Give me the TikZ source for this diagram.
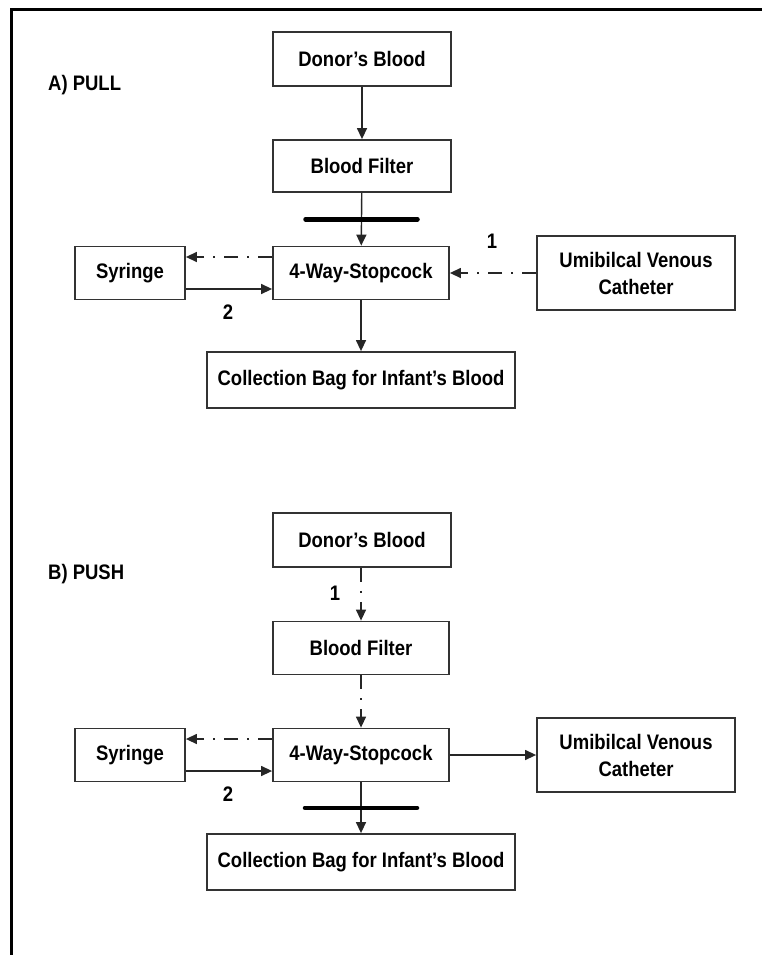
\documentclass[tikz,border=0pt]{standalone}
\usepackage{fontspec}
\setmainfont{Liberation Sans}[FakeStretch=0.88]
\usetikzlibrary{arrows.meta,calc}
\begin{document}
\begin{tikzpicture}[x=1pt,y=-1pt,
  box/.style={draw=black!80,line width=1.8pt,fill=white,inner sep=0pt,align=center,
    font=\fontsize{21}{27}\selectfont\bfseries},
  flow/.style={draw=black!85,line width=1.4pt,-{Triangle[length=11pt,width=10pt]}},
  dashflow/.style={flow,dash pattern=on 14pt off 9pt on 2pt off 9pt},
  clamp/.style={line width=4.5pt,line cap=round,black},
  lbl/.style={font=\fontsize{21}{24}\selectfont\bfseries,inner sep=0pt}]
\useasboundingbox (0,0) rectangle (762,955);
% frame
\draw[line width=3pt] (11,960) -- (11,10) -- (770,10);

% ---------- A) PULL ----------
\node[lbl,anchor=west] (titA) at (48,85) {A) PULL};
\node[box,minimum width=178pt,minimum height=54pt] (donA) at (362,59) {Donor's Blood};
\node[box,minimum width=178pt,minimum height=52pt] (filA) at (362,166) {Blood Filter};
\node[box,minimum width=176pt,minimum height=53pt] (stcA) at (361,273) {4-Way-Stopcock};
\node[box,minimum width=110pt,minimum height=53pt] (syrA) at (130,273) {Syringe};
\node[box,minimum width=198pt,minimum height=74pt] (uvcA) at (636,273) {Umibilcal Venous\\Catheter};
\node[box,minimum width=308pt,minimum height=56pt] (bagA) at (361,380) {Collection Bag for Infant's Blood};

\draw[flow] (donA) -- (filA);
\draw[flow] (filA) -- (stcA);
\coordinate (clA) at ($(filA.south)!0.5!(stcA.north)$);
\draw[clamp] ($(clA)+(-56,0)$) -- ($(clA)+(56,0)$);
\draw[dashflow] ($(stcA.west)+(0,-16)$) coordinate (a1) -- (syrA.east |- a1);
\draw[flow] ($(syrA.east)+(0,16)$) coordinate (a2) -- (stcA.west |- a2);
\node[lbl] (twoA) at (228,312) {2};
\draw[dashflow] (uvcA.west |- stcA.east) -- (stcA.east);
\node[lbl] (oneA) at (492,241) {1};
\draw[flow] (stcA) -- (bagA);

% ---------- B) PUSH ----------
\node[lbl,anchor=west] (titB) at (48,574) {B) PUSH};
\node[box,minimum width=178pt,minimum height=54pt] (donB) at (362,540) {Donor's Blood};
\node[box,minimum width=176pt,minimum height=53pt] (filB) at (361,648) {Blood Filter};
\node[box,minimum width=176pt,minimum height=53pt] (stcB) at (361,755) {4-Way-Stopcock};
\node[box,minimum width=110pt,minimum height=53pt] (syrB) at (130,755) {Syringe};
\node[box,minimum width=198pt,minimum height=74pt] (uvcB) at (636,755) {Umibilcal Venous\\Catheter};
\node[box,minimum width=308pt,minimum height=56pt] (bagB) at (361,862) {Collection Bag for Infant's Blood};

\draw[dashflow] (donB.south -| filB.north) -- (filB.north);
\node[lbl] (oneB) at (335,593) {1};
\draw[dashflow] (filB) -- (stcB);
\draw[dashflow] ($(stcB.west)+(0,-16)$) coordinate (b1) -- (syrB.east |- b1);
\draw[flow] ($(syrB.east)+(0,16)$) coordinate (b2) -- (stcB.west |- b2);
\node[lbl] (twoB) at (228,794) {2};
\draw[flow] (stcB.east) -- (uvcB.west |- stcB.east);
\draw[flow] (stcB) -- (bagB);
\coordinate (clB) at ($(stcB.south)!0.5!(bagB.north)$);
\draw[clamp] ($(clB)+(-56,0)$) -- ($(clB)+(56,0)$);
\end{tikzpicture}
\end{document}
